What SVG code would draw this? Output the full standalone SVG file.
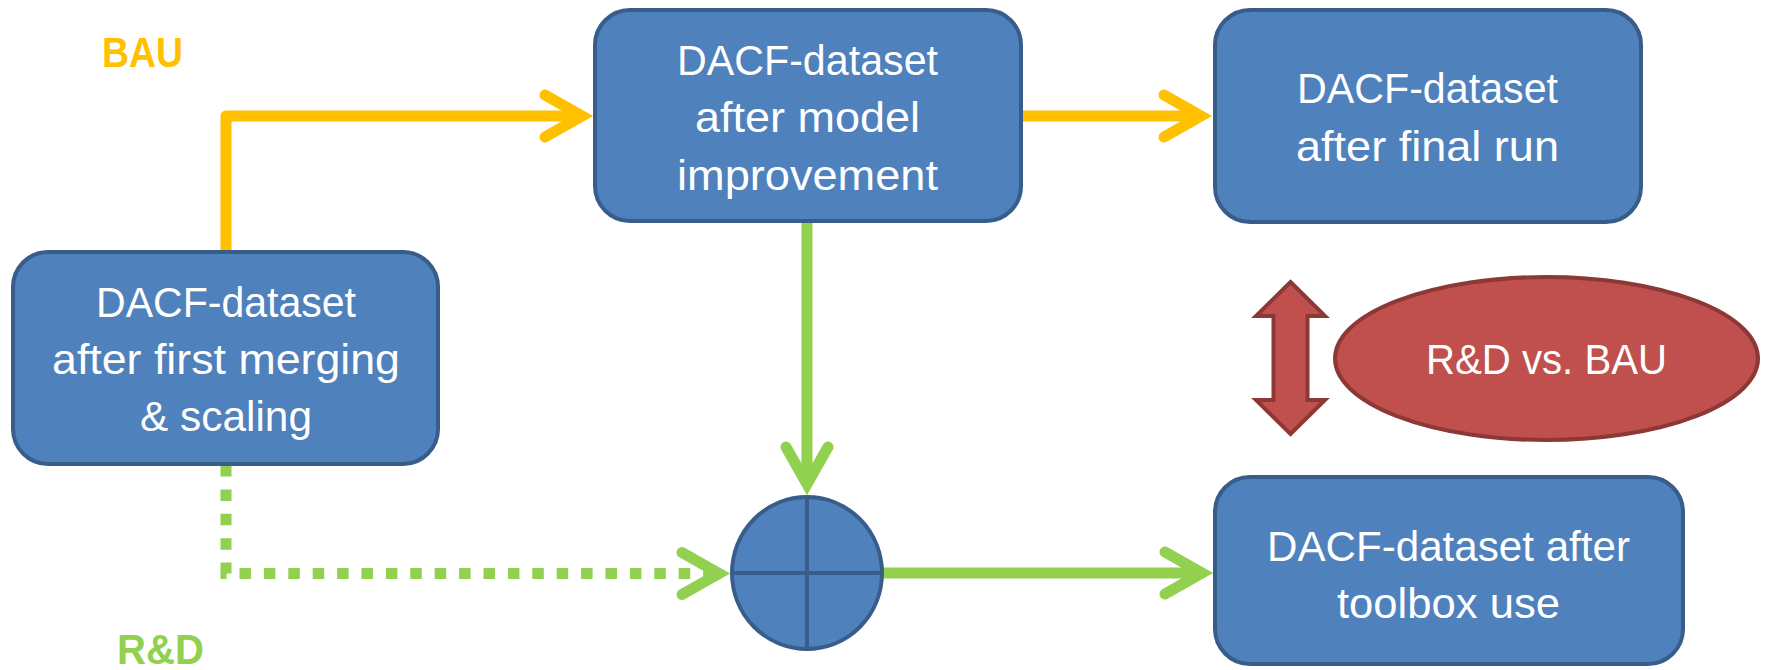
<svg xmlns="http://www.w3.org/2000/svg" width="1765" height="670" viewBox="0 0 1765 670">
<style>
.box{fill:#4F81BD;stroke:#385D8A;stroke-width:4}
.t{font-family:"Liberation Sans",Arial,sans-serif;font-size:42px;fill:#FFFFFF}
.lbl{font-family:"Liberation Sans",Arial,sans-serif;font-size:42px;font-weight:bold}
.y{fill:none;stroke:#FFC000;stroke-width:11}
.g{fill:none;stroke:#92D050;stroke-width:11}
.red{fill:#C0504D;stroke:#8C3836;stroke-width:4}
.cross{stroke:#385D8A;stroke-width:4;fill:none}
</style>
<defs>
<marker id="ay" markerUnits="userSpaceOnUse" viewBox="-70 -35 80 70" markerWidth="80" markerHeight="70" refX="-20" refY="0" orient="auto">
<path d="M-48,-21 L-11,0 L-48,21" fill="none" stroke="#FFC000" stroke-width="11" stroke-linecap="round" stroke-linejoin="miter"/>
</marker>
<marker id="ag" markerUnits="userSpaceOnUse" viewBox="-70 -35 80 70" markerWidth="80" markerHeight="70" refX="-20" refY="0" orient="auto">
<path d="M-48,-21 L-11,0 L-48,21" fill="none" stroke="#92D050" stroke-width="11" stroke-linecap="round" stroke-linejoin="miter"/>
</marker>
</defs>

<g id="connectors">
<path class="y" d="M226,253 V116 H573" stroke-linejoin="round" marker-end="url(#ay)"/>
<path class="y" d="M1021,116 H1192" marker-end="url(#ay)"/>
<path class="g" d="M807,221 V475" marker-end="url(#ag)"/>
<path class="g" d="M882,573 H1193" marker-end="url(#ag)"/>
<path class="g" d="M226,465 V573.5 H710" stroke-dasharray="11.5 12.9" marker-end="url(#ag)"/>
</g>

<g id="label-bau">
<text class="lbl" x="102" y="67" fill="#FFC000" textLength="81" lengthAdjust="spacingAndGlyphs">BAU</text>
</g>
<g id="label-rd">
<text class="lbl" x="117" y="664" fill="#92D050" textLength="87" lengthAdjust="spacingAndGlyphs">R&amp;D</text>
</g>

<g id="node-first-merging">
<rect class="box" x="13" y="252" width="425" height="212" rx="35" ry="35"/>
<text class="t" x="96" y="317" textLength="260" lengthAdjust="spacingAndGlyphs">DACF-dataset</text>
<text class="t" x="52" y="374" textLength="348" lengthAdjust="spacingAndGlyphs">after first merging</text>
<text class="t" x="140" y="431" textLength="172" lengthAdjust="spacingAndGlyphs">&amp; scaling</text>
</g>

<g id="node-model-improvement">
<rect class="box" x="595" y="10" width="426" height="211" rx="35" ry="35"/>
<text class="t" x="677" y="75" textLength="261" lengthAdjust="spacingAndGlyphs">DACF-dataset</text>
<text class="t" x="695" y="132" textLength="225" lengthAdjust="spacingAndGlyphs">after model</text>
<text class="t" x="677" y="190" textLength="261" lengthAdjust="spacingAndGlyphs">improvement</text>
</g>

<g id="node-final-run">
<rect class="box" x="1215" y="10" width="426" height="212" rx="35" ry="35"/>
<text class="t" x="1297" y="103" textLength="261" lengthAdjust="spacingAndGlyphs">DACF-dataset</text>
<text class="t" x="1296" y="161" textLength="263" lengthAdjust="spacingAndGlyphs">after final run</text>
</g>

<g id="node-toolbox">
<rect class="box" x="1215" y="477" width="468" height="187" rx="35" ry="35"/>
<text class="t" x="1267" y="561" textLength="363" lengthAdjust="spacingAndGlyphs">DACF-dataset after</text>
<text class="t" x="1337" y="618" textLength="223" lengthAdjust="spacingAndGlyphs">toolbox use</text>
</g>

<g id="node-sum">
<ellipse class="box" cx="807" cy="573" rx="75" ry="76"/>
<line class="cross" x1="807" y1="497" x2="807" y2="649"/>
<line class="cross" x1="732" y1="573" x2="882" y2="573"/>
</g>

<g id="node-double-arrow">
<polygon class="red" stroke-width="3.5" points="1290.5,282 1325,316 1307.5,316 1307.5,400 1325,400 1290.5,434 1256,400 1273.5,400 1273.5,316 1256,316"/>
</g>

<g id="node-rd-vs-bau">
<ellipse class="red" cx="1546.5" cy="358.5" rx="211.5" ry="81.5"/>
<text class="t" x="1426" y="374" textLength="241" lengthAdjust="spacingAndGlyphs">R&amp;D vs. BAU</text>
</g>
</svg>
